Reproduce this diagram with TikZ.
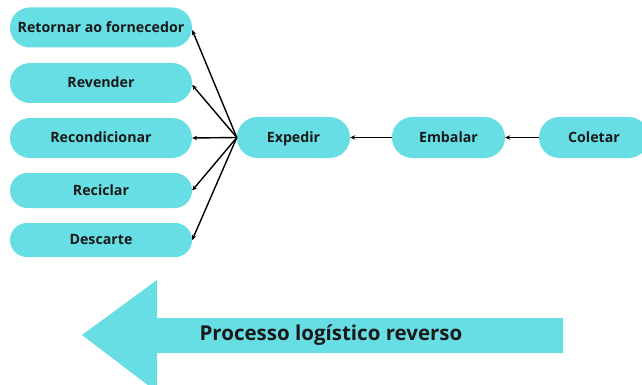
\documentclass[tikz,border=0pt]{standalone}
\usepackage{fontspec}
\setmainfont{Open Sans}
\usetikzlibrary{arrows.meta}
\definecolor{pill}{RGB}{102,222,228}
\begin{document}
\begin{tikzpicture}[x=1pt,y=-1pt,
  pillbox/.style={fill=pill, draw=none, inner sep=0pt, text height=10pt, text depth=0.5pt, font=\bfseries\fontsize{14.2}{16}\selectfont, text=black!90},
  conn/.style={draw=black, line width=1.4pt, -{Stealth[length=5pt,width=4.5pt]}}]
\useasboundingbox (0,0) rectangle (642,385);
% left boxes
\node[pillbox, minimum width=182pt, minimum height=40pt, rounded corners=19.9pt] (ret) at (101,27.5) {Retornar ao fornecedor};
\node[pillbox, minimum width=182pt, minimum height=40pt, rounded corners=19.9pt] (rev) at (101,83) {Revender};
\node[pillbox, minimum width=182pt, minimum height=40pt, rounded corners=19.9pt] (rec) at (101,138) {Recondicionar};
\node[pillbox, minimum width=182pt, minimum height=35pt, rounded corners=17.4pt] (recl) at (101,190.5) {Reciclar};
\node[pillbox, minimum width=182pt, minimum height=34pt, rounded corners=16.9pt] (des) at (101,240) {Descarte};
% chain
\node[pillbox, minimum width=113pt, minimum height=41pt, rounded corners=20.4pt] (exp) at (293.5,137.5) {Expedir};
\node[pillbox, minimum width=113pt, minimum height=41pt, rounded corners=20.4pt] (emb) at (448.5,137.5) {Embalar};
\node[pillbox, minimum width=110pt, minimum height=41pt, rounded corners=20.4pt] (col) at (594,137.5) {Coletar};
% connectors
\draw[conn] (exp.west) -- (ret.east |- 0,30);
\draw[conn] (exp.west) -- (rev.east |- 0,85);
\draw[conn] (exp.west) -- (rec.east);
\draw[conn] (exp.west) -- (recl.east);
\draw[conn] (exp.west) -- (des.east);
\draw[conn] (emb.west) -- (exp.east);
\draw[conn] (col.west) -- (emb.east);
% big arrow
\fill[pill] (82,335) -- (157,280) -- (157,318) -- (563,318) -- (563,353) -- (157,353) -- (157,392) -- cycle;
\node[font=\bfseries\fontsize{20.5}{24}\selectfont, text=black!90] (lbl) at (331,335) {Processo logístico reverso};
\end{tikzpicture}
\end{document}
